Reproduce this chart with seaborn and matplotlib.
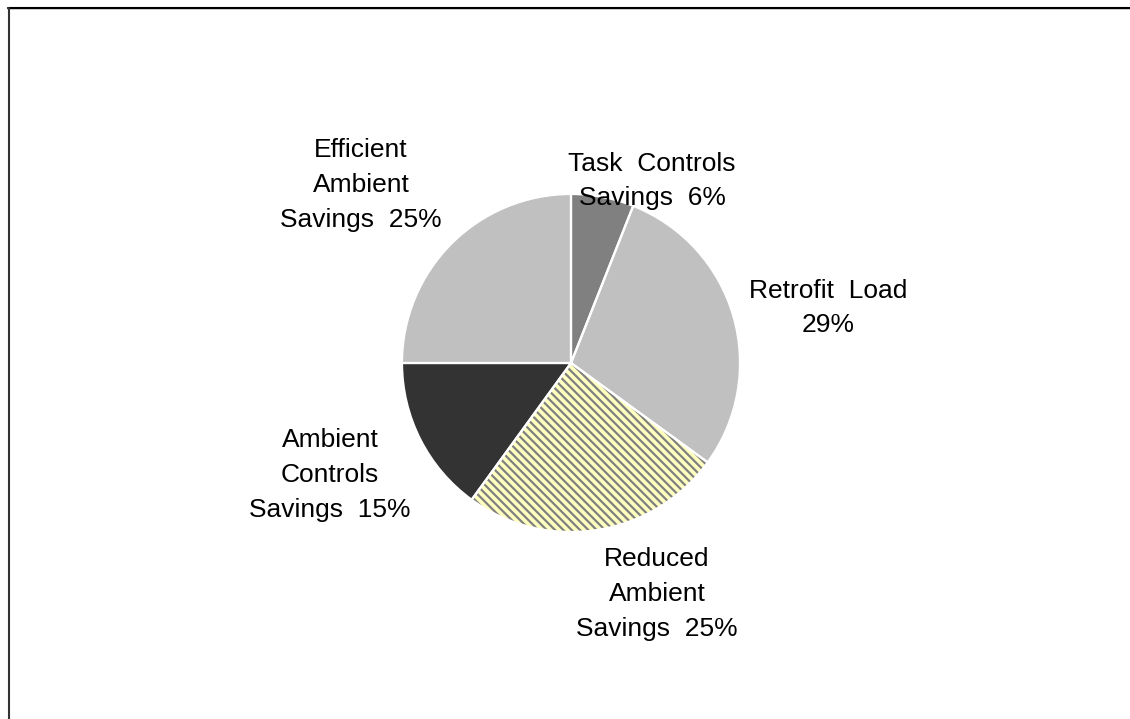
import matplotlib
matplotlib.use("Agg")
import matplotlib.pyplot as plt
import seaborn as sns
from matplotlib.lines import Line2D

# dados do grafico (fatias no sentido horario a partir do topo)
categorias = ["Task  Controls\nSavings", "Retrofit  Load", "Reduced\nAmbient\nSavings",
              "Ambient\nControls\nSavings", "Efficient\nAmbient\nSavings"]
valores = [6, 29, 25, 15, 25]
separadores = ["  ", "\n", "  ", "  ", "  "]
cores = ["#808080", "#c0c0c0", "#ffffc0", "#333333", "#c0c0c0"]
hachuras = [None, None, "\\\\\\\\", None, None]

# posicoes dos rotulos em pixels (x, y a partir do topo)
pos_rotulos = [(652, 181), (828, 308), (657, 594), (330, 475), (361, 185)]

LARG, ALT = 1130, 719
CENTRO = (571, ALT - 363)
RAIO = 169

sns.set_theme(style="white")
plt.rcParams['font.family'] = ['Liberation Sans', 'DejaVu Sans']
plt.rcParams['hatch.linewidth'] = 1.6

fig = plt.figure(figsize=(LARG / 100, ALT / 100), dpi=100)
ax = fig.add_axes([0, 0, 1, 1])

fatias, _ = ax.pie(valores, colors=cores, startangle=90, counterclock=False,
                   center=CENTRO, radius=RAIO, wedgeprops=dict(linewidth=0))
for f, h in zip(fatias, hachuras):
    if h:
        f.set_hatch(h)
        f.set_edgecolor("#808080")
        if hasattr(f, "set_hatch_linewidth"):
            f.set_hatch_linewidth(1.6)

# bordas brancas entre as fatias
ax.pie(valores, colors=["none"] * len(valores), startangle=90, counterclock=False,
       center=CENTRO, radius=RAIO,
       wedgeprops=dict(linewidth=1.6, edgecolor="white", fill=False))

for nome, sep, v, (px, py) in zip(categorias, separadores, valores, pos_rotulos):
    ax.text(px, ALT - py, f"{nome}{sep}{v}%", ha="center", va="center",
            fontsize=19, linespacing=1.56, color="black", multialignment="center")

ax.set_xlim(0, LARG)
ax.set_ylim(0, ALT)
ax.set_aspect("auto")
ax.axis("off")

# moldura (parcial, como no original)
fig.add_artist(Line2D([8 / LARG, 1], [1 - 9 / ALT, 1 - 9 / ALT], color="#cccccc",
                      lw=1.2, transform=fig.transFigure))
fig.add_artist(Line2D([8 / LARG, 1], [1 - 8 / ALT, 1 - 8 / ALT], color="black",
                      lw=1.5, transform=fig.transFigure))
fig.add_artist(Line2D([8.5 / LARG, 8.5 / LARG], [0, 1 - 8 / ALT], color="#333333",
                      lw=1.5, transform=fig.transFigure))

fig.savefig("out.png", dpi=100, facecolor="white")
plt.close(fig)
